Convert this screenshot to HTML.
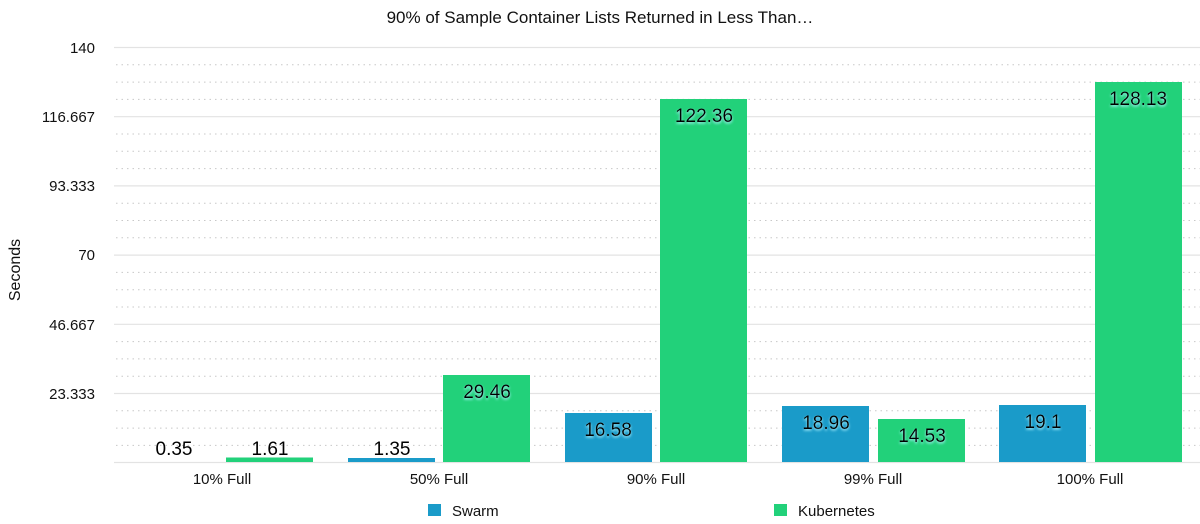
<!DOCTYPE html>
<html><head><meta charset="utf-8"><style>
html,body{margin:0;padding:0;background:#fff;}
svg{display:block;font-family:"Liberation Sans",Arial,sans-serif;}
.v{font-size:19px;fill:#000;text-anchor:middle;}
.g{filter:url(#glow);}
</style></head><body>
<svg width="1200" height="524" viewBox="0 0 1200 524" xmlns="http://www.w3.org/2000/svg">
<defs>
<filter id="glow" x="-20%" y="-40%" width="140%" height="180%">
<feGaussianBlur in="SourceAlpha" stdDeviation="1.2" result="b"/>
<feOffset in="b" dy="1.5" result="o"/>
<feFlood flood-color="#aef2ff"/>
<feComposite in2="o" operator="in" result="s"/>
<feMerge><feMergeNode in="s"/><feMergeNode in="SourceGraphic"/></feMerge>
</filter>
</defs>
<text x="600" y="23" font-size="17" text-anchor="middle" fill="#111">90% of Sample Container Lists Returned in Less Than…</text>
<g stroke="#c8c8c8" stroke-width="1" stroke-dasharray="1.5,4">
<line x1="116" x2="1200" y1="64.8" y2="64.8"/><line x1="116" x2="1200" y1="82.1" y2="82.1"/><line x1="116" x2="1200" y1="99.4" y2="99.4"/>
<line x1="116" x2="1200" y1="134" y2="134"/><line x1="116" x2="1200" y1="151.3" y2="151.3"/><line x1="116" x2="1200" y1="168.6" y2="168.6"/>
<line x1="116" x2="1200" y1="203.2" y2="203.2"/><line x1="116" x2="1200" y1="220.5" y2="220.5"/><line x1="116" x2="1200" y1="237.8" y2="237.8"/>
<line x1="116" x2="1200" y1="272.4" y2="272.4"/><line x1="116" x2="1200" y1="289.7" y2="289.7"/><line x1="116" x2="1200" y1="307" y2="307"/>
<line x1="116" x2="1200" y1="341.6" y2="341.6"/><line x1="116" x2="1200" y1="358.9" y2="358.9"/><line x1="116" x2="1200" y1="376.2" y2="376.2"/>
<line x1="116" x2="1200" y1="410.8" y2="410.8"/><line x1="116" x2="1200" y1="428.1" y2="428.1"/><line x1="116" x2="1200" y1="445.4" y2="445.4"/>
</g>
<g stroke="#e3e3e3" stroke-width="1.2">
<line x1="114" x2="1200" y1="47.5" y2="47.5"/><line x1="114" x2="1200" y1="116.7" y2="116.7"/><line x1="114" x2="1200" y1="185.9" y2="185.9"/>
<line x1="114" x2="1200" y1="255.1" y2="255.1"/><line x1="114" x2="1200" y1="324.3" y2="324.3"/><line x1="114" x2="1200" y1="393.5" y2="393.5"/>
<line x1="114" x2="1200" y1="462.5" y2="462.5"/>
</g>
<g font-size="15" text-anchor="end" fill="#111">
<text x="95" y="53">140</text><text x="95" y="122">116.667</text><text x="95" y="191">93.333</text>
<text x="95" y="260">70</text><text x="95" y="330">46.667</text><text x="95" y="399">23.333</text>
</g>
<text transform="translate(20,270) rotate(-90)" font-size="16" text-anchor="middle" fill="#111">Seconds</text>
<g fill="#1a9bc9">
<rect x="348" y="458" width="87" height="4"/>
<rect x="565" y="413" width="87" height="49"/>
<rect x="782" y="406" width="87" height="56"/>
<rect x="999" y="405" width="87" height="57"/>
</g>
<g fill="#22d17a">
<rect x="226" y="457.5" width="87" height="4.5"/>
<rect x="443" y="375" width="87" height="87"/>
<rect x="660" y="99" width="87" height="363"/>
<rect x="878" y="419" width="87" height="43"/>
<rect x="1095" y="82" width="87" height="380"/>
</g>
<text class="v" x="174" y="455">0.35</text>
<text class="v" x="270" y="455">1.61</text>
<text class="v" x="392" y="455">1.35</text>
<g class="g">
<text class="v" x="487" y="398">29.46</text>
<text class="v" x="608" y="436">16.58</text>
<text class="v" x="704" y="122">122.36</text>
<text class="v" x="826" y="429">18.96</text>
<text class="v" x="922" y="442">14.53</text>
<text class="v" x="1043" y="428">19.1</text>
<text class="v" x="1138" y="105">128.13</text>
</g>
<g font-size="15" text-anchor="middle" fill="#111">
<text x="222" y="484">10% Full</text><text x="439" y="484">50% Full</text><text x="656" y="484">90% Full</text>
<text x="873" y="484">99% Full</text><text x="1090" y="484">100% Full</text>
</g>
<rect x="428" y="504" width="13" height="12" fill="#1a9bc9"/>
<text x="452" y="516" font-size="15" fill="#111">Swarm</text>
<rect x="774" y="504" width="13" height="12" fill="#22d17a"/>
<text x="798" y="516" font-size="15" fill="#111">Kubernetes</text>
</svg>
</body></html>
